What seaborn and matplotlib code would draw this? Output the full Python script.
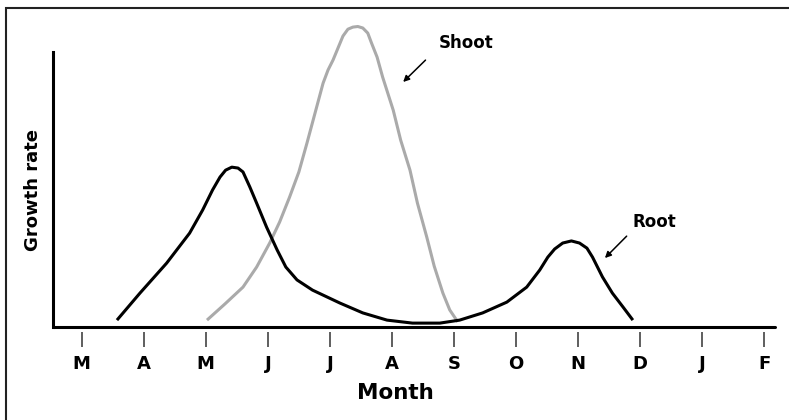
import numpy as np
import pandas as pd
import seaborn as sns
import matplotlib.pyplot as plt
from matplotlib.patches import Rectangle

# month ticks (March to February)
months = ['M', 'A', 'M', 'J', 'J', 'A', 'S', 'O', 'N', 'D', 'J', 'F']

# root growth rate (x in months from March)
root_x = [0.57, 0.94, 1.37, 1.74, 1.95, 2.11, 2.23, 2.32, 2.42, 2.52, 2.60, 2.71,
          2.82, 2.98, 3.15, 3.29, 3.47, 3.72, 4.16, 4.53, 4.92, 5.33, 5.77, 6.09,
          6.46, 6.85, 7.17, 7.38, 7.51, 7.62, 7.75, 7.89, 8.02, 8.14, 8.23, 8.39,
          8.55, 8.72, 8.88]
root_y = [2.3, 11.3, 21.3, 31.3, 39.0, 45.7, 50.0, 52.3, 53.3, 53.0, 51.7, 46.7,
          41.3, 33.3, 25.7, 20.0, 15.7, 12.3, 8.0, 4.7, 2.3, 1.3, 1.3, 2.3,
          4.7, 8.3, 13.3, 19.0, 23.3, 26.0, 28.0, 28.7, 28.0, 26.3, 23.3, 16.7,
          11.3, 6.7, 2.3]

# shoot growth rate
shoot_x = [2.02, 2.31, 2.60, 2.82, 3.03, 3.19, 3.35, 3.50, 3.63, 3.76, 3.89, 3.97,
           4.05, 4.13, 4.21, 4.29, 4.37, 4.45, 4.53, 4.61, 4.67, 4.76, 4.85, 5.02,
           5.14, 5.29, 5.41, 5.56, 5.68, 5.82, 5.93, 6.06]
shoot_y = [2.3, 7.7, 13.3, 20.0, 28.0, 35.0, 43.3, 51.7, 61.3, 71.3, 81.3, 85.7,
           89.0, 93.0, 97.0, 99.3, 100.0, 100.2, 99.7, 98.0, 94.7, 90.0, 83.3, 72.3,
           62.3, 52.3, 41.3, 30.0, 20.3, 11.3, 5.7, 1.7]

sns.set_style("white")
plt.rcParams['font.family'] = ['DejaVu Sans']
plt.rcParams['text.color'] = 'black'
plt.rcParams['xtick.labelcolor'] = 'black'

fig = plt.figure(figsize=(7.89, 4.2), dpi=100)
ax = fig.add_axes([0.0672, 0.2214, 0.9151, 0.6548])

sns.lineplot(x=shoot_x, y=shoot_y, sort=False, estimator=None, color='#aaaaaa',
             lw=2.2, ax=ax, clip_on=False, solid_capstyle='butt',
             solid_joinstyle='round')
sns.lineplot(x=root_x, y=root_y, sort=False, estimator=None, color='black',
             lw=2.2, ax=ax, clip_on=False, solid_capstyle='butt',
             solid_joinstyle='round')

ax.set_xlim(-0.46, 11.17)
ax.set_ylim(0, 91.7)

# axes: left spine, bottom line, ticks offset below the line
sns.despine(ax=ax, top=True, right=True)
ax.spines['left'].set_linewidth(2.2)
ax.spines['left'].set_color('black')
ax.spines['bottom'].set_visible(False)
ax.spines['bottom'].set_position(('outward', 3.5))
ax.axhline(0, color='black', lw=2.2, clip_on=False, zorder=1)

ax.set_xticks(range(len(months)))
ax.set_xticklabels(months, fontsize=13, fontweight='bold')
ax.set_yticks([])
ax.tick_params(axis='x', direction='out', length=10.5, width=1.1,
               color='#333333', pad=6, bottom=True)

ax.text(0.474, -0.24, 'Month', transform=ax.transAxes, ha='center', va='center',
        fontsize=15.5, fontweight='bold')
ax.text(-0.028, 0.5, 'Growth rate', transform=ax.transAxes, ha='center',
        va='center', rotation=90, fontsize=13, fontweight='bold')

# labels with arrows
ax.text(5.75, 94.7, 'Shoot', ha='left', va='center', fontsize=12,
        fontweight='bold', clip_on=False)
ax.annotate('', xy=(5.18, 81.7), xytext=(5.54, 89.0),
            arrowprops=dict(arrowstyle='-|>', color='black', lw=1.1,
                            mutation_scale=9, shrinkA=0, shrinkB=0),
            annotation_clip=False)
ax.text(9.23, 35.0, 'Root', ha='center', va='center', fontsize=12,
        fontweight='bold')
ax.annotate('', xy=(8.43, 23.0), xytext=(8.78, 30.3),
            arrowprops=dict(arrowstyle='-|>', color='black', lw=1.1,
                            mutation_scale=9, shrinkA=0, shrinkB=0),
            annotation_clip=False)

# frame around the figure
fig.patches.append(Rectangle((6 / 789, -0.05), 1.0, 1 - 8 / 420 + 0.05,
                             transform=fig.transFigure, fill=False,
                             lw=1.5, ec='#222222'))

fig.savefig('out.png', dpi=100)
